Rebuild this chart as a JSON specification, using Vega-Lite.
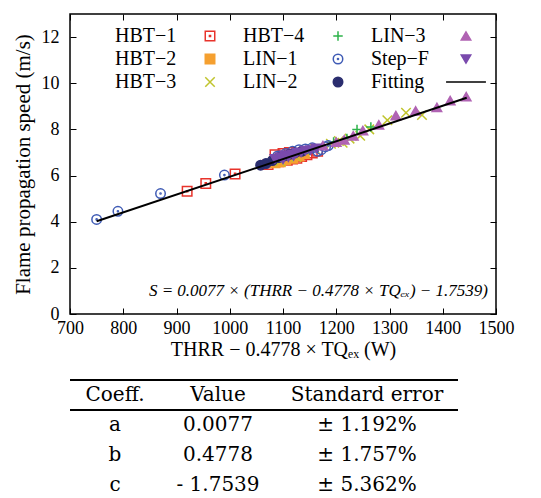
{
  "$schema": "https://vega.github.io/schema/vega-lite/v6.json",
  "padding": {"left": 11, "top": 12, "right": 5, "bottom": 0},
  "config": {
    "view": {"stroke": null},
    "axis": {"grid": false, "domain": false, "tickColor": "#000", "tickWidth": 1, "tickSize": -6, "labelColor": "#000", "titleColor": "#000", "labelFont": "Liberation Serif", "titleFont": "Liberation Serif", "labelFontSize": 18, "titleFontWeight": "normal", "labelFlush": false, "labelOverlap": false},
    "legend": {"orient": "none", "legendX": 130, "legendY": 12, "columns": 3, "direction": "horizontal", "title": null, "labelFont": "Liberation Serif", "labelFontSize": 20, "labelColor": "#000", "labelAlign": "left", "labelOffset": -105, "labelLimit": 300, "symbolSize": 90, "symbolStrokeWidth": 1.5, "rowPadding": 3, "columnPadding": 25, "gridAlign": "each", "padding": 0}
  },
  "datasets": {
    "points": [
      {"series": "HBT−1", "thrr": 920, "speed": 5.32},
      {"series": "HBT−1", "thrr": 955, "speed": 5.66},
      {"series": "HBT−1", "thrr": 1010, "speed": 6.07},
      {"series": "HBT−1", "thrr": 1072, "speed": 6.48},
      {"series": "HBT−1", "thrr": 1085, "speed": 6.9},
      {"series": "HBT−1", "thrr": 1092, "speed": 6.6},
      {"series": "HBT−1", "thrr": 1100, "speed": 6.95},
      {"series": "HBT−1", "thrr": 1108, "speed": 6.66},
      {"series": "HBT−1", "thrr": 1118, "speed": 6.72},
      {"series": "HBT−1", "thrr": 1126, "speed": 6.75},
      {"series": "HBT−1", "thrr": 1135, "speed": 6.82},
      {"series": "HBT−1", "thrr": 1145, "speed": 6.9},
      {"series": "HBT−1", "thrr": 1155, "speed": 6.98},
      {"series": "HBT−1", "thrr": 1165, "speed": 7.05},
      {"series": "HBT−1", "thrr": 1112, "speed": 7.0},
      {"series": "HBT−2", "thrr": 1085, "speed": 6.55},
      {"series": "HBT−2", "thrr": 1095, "speed": 6.6},
      {"series": "HBT−2", "thrr": 1105, "speed": 6.68},
      {"series": "HBT−2", "thrr": 1118, "speed": 6.75},
      {"series": "HBT−2", "thrr": 1130, "speed": 6.85},
      {"series": "HBT−2", "thrr": 1140, "speed": 6.95},
      {"series": "HBT−3", "thrr": 1095, "speed": 6.62},
      {"series": "HBT−3", "thrr": 1125, "speed": 6.8},
      {"series": "HBT−3", "thrr": 1160, "speed": 7.15},
      {"series": "HBT−3", "thrr": 1190, "speed": 7.38},
      {"series": "HBT−3", "thrr": 1205, "speed": 7.5},
      {"series": "HBT−3", "thrr": 1212, "speed": 7.42},
      {"series": "HBT−3", "thrr": 1225, "speed": 7.6},
      {"series": "HBT−3", "thrr": 1245, "speed": 7.72},
      {"series": "HBT−3", "thrr": 1262, "speed": 8.0},
      {"series": "HBT−3", "thrr": 1296, "speed": 8.4},
      {"series": "HBT−3", "thrr": 1331, "speed": 8.72},
      {"series": "HBT−3", "thrr": 1361, "speed": 8.62},
      {"series": "HBT−4", "thrr": 1110, "speed": 6.85},
      {"series": "HBT−4", "thrr": 1150, "speed": 7.1},
      {"series": "HBT−4", "thrr": 1195, "speed": 7.45},
      {"series": "HBT−4", "thrr": 1220, "speed": 7.6},
      {"series": "HBT−4", "thrr": 1239, "speed": 8.0},
      {"series": "HBT−4", "thrr": 1265, "speed": 8.1},
      {"series": "LIN−1", "thrr": 750, "speed": 4.1},
      {"series": "LIN−1", "thrr": 790, "speed": 4.45},
      {"series": "LIN−1", "thrr": 870, "speed": 5.22},
      {"series": "LIN−1", "thrr": 990, "speed": 6.02},
      {"series": "LIN−1", "thrr": 1090, "speed": 6.85},
      {"series": "LIN−1", "thrr": 1105, "speed": 6.95},
      {"series": "LIN−1", "thrr": 1118, "speed": 7.05},
      {"series": "LIN−1", "thrr": 1130, "speed": 7.12},
      {"series": "LIN−1", "thrr": 1142, "speed": 7.15},
      {"series": "LIN−1", "thrr": 1155, "speed": 7.2},
      {"series": "LIN−1", "thrr": 1165, "speed": 7.05},
      {"series": "LIN−1", "thrr": 1172, "speed": 7.12},
      {"series": "LIN−1", "thrr": 1180, "speed": 7.25},
      {"series": "LIN−1", "thrr": 1185, "speed": 7.3},
      {"series": "LIN−2", "thrr": 1058, "speed": 6.45},
      {"series": "LIN−2", "thrr": 1068, "speed": 6.52},
      {"series": "LIN−2", "thrr": 1080, "speed": 6.65},
      {"series": "LIN−2", "thrr": 1092, "speed": 6.78},
      {"series": "LIN−2", "thrr": 1102, "speed": 6.85},
      {"series": "LIN−2", "thrr": 1112, "speed": 6.92},
      {"series": "LIN−2", "thrr": 1122, "speed": 6.98},
      {"series": "LIN−2", "thrr": 1135, "speed": 7.05},
      {"series": "LIN−3", "thrr": 1175, "speed": 7.3},
      {"series": "LIN−3", "thrr": 1200, "speed": 7.45},
      {"series": "LIN−3", "thrr": 1215, "speed": 7.55},
      {"series": "LIN−3", "thrr": 1232, "speed": 7.72},
      {"series": "LIN−3", "thrr": 1250, "speed": 7.95},
      {"series": "LIN−3", "thrr": 1280, "speed": 8.2},
      {"series": "LIN−3", "thrr": 1312, "speed": 8.6},
      {"series": "LIN−3", "thrr": 1349, "speed": 8.8},
      {"series": "LIN−3", "thrr": 1389, "speed": 8.95},
      {"series": "LIN−3", "thrr": 1414, "speed": 9.25},
      {"series": "LIN−3", "thrr": 1444, "speed": 9.42},
      {"series": "Step−F", "thrr": 1085, "speed": 6.72},
      {"series": "Step−F", "thrr": 1095, "speed": 6.8},
      {"series": "Step−F", "thrr": 1100, "speed": 6.7},
      {"series": "Step−F", "thrr": 1103, "speed": 6.88},
      {"series": "Step−F", "thrr": 1110, "speed": 6.8},
      {"series": "Step−F", "thrr": 1118, "speed": 6.92},
      {"series": "Step−F", "thrr": 1120, "speed": 6.85},
      {"series": "Step−F", "thrr": 1126, "speed": 6.98},
      {"series": "Step−F", "thrr": 1134, "speed": 7.0},
      {"series": "Step−F", "thrr": 1142, "speed": 7.08},
      {"series": "Step−F", "thrr": 1152, "speed": 7.1},
      {"series": "Step−F", "thrr": 1162, "speed": 7.18}
    ],
    "fit": [
      {"thrr": 750, "speed": 4.02},
      {"thrr": 1445, "speed": 9.37}
    ],
    "eq": [
      {"label": "S = 0.0077 × (THRR − 0.4778 × TQₑₓ) − 1.7539)"}
    ],
    "rules": [
      {"r": -0.5},
      {"r": 0.5}
    ],
    "table": [
      {"row": 0, "col": "Coeff.", "text": "Coeff."},
      {"row": 0, "col": "Value", "text": "Value"},
      {"row": 0, "col": "Standard error", "text": "Standard error"},
      {"row": 1, "col": "Coeff.", "text": "a"},
      {"row": 1, "col": "Value", "text": "0.0077"},
      {"row": 1, "col": "Standard error", "text": "± 1.192%"},
      {"row": 2, "col": "Coeff.", "text": "b"},
      {"row": 2, "col": "Value", "text": "0.4778"},
      {"row": 2, "col": "Standard error", "text": "± 1.757%"},
      {"row": 3, "col": "Coeff.", "text": "c"},
      {"row": 3, "col": "Value", "text": "- 1.7539"},
      {"row": 3, "col": "Standard error", "text": "± 5.362%"}
    ]
  },
  "bounds": "flush",
  "spacing": 66,
  "vconcat": [
    {
      "width": 426,
      "height": 300,
      "view": {"stroke": "#000", "strokeWidth": 1.5},
      "layer": [
        {
          "data": {"name": "points"},
          "mark": {"type": "point", "size": 90, "strokeWidth": 1.5, "opacity": 1},
          "encoding": {
            "x": {"field": "thrr", "type": "quantitative", "scale": {"domain": [700, 1500], "nice": false, "zero": false},
                  "axis": {"orient": "bottom", "values": [700, 800, 900, 1000, 1100, 1200, 1300, 1400, 1500], "format": "d", "title": "THRR − 0.4778 × TQₑₓ (W)", "titleFontSize": 20, "labelPadding": 11, "titlePadding": 2}},
            "y": {"field": "speed", "type": "quantitative", "scale": {"domain": [0, 13], "nice": false, "zero": false},
                  "axis": {"orient": "left", "values": [0, 2, 4, 6, 8, 10, 12], "format": "d", "title": "Flame propagation speed (m/s)", "titleFontSize": 21, "labelPadding": 17, "titlePadding": 8}},
            "shape": {"field": "series", "type": "nominal",
                      "scale": {"domain": ["HBT−1", "HBT−4", "LIN−3", "HBT−2", "LIN−1", "Step−F", "HBT−3", "LIN−2", "Fitting"],
                                "range": ["M-1,-1H1V1H-1Z M-0.12,-0.12H0.12V0.12H-0.12Z", "M-1,0H1M0,-1V1", "triangle-up", "square", "M-1,0A1,1 0 1,0 1,0A1,1 0 1,0 -1,0Z M-0.12,0A0.12,0.12 0 1,0 0.12,0A0.12,0.12 0 1,0 -0.12,0Z", "triangle-down", "M-1,-1L1,1M-1,1L1,-1", "circle", "M-4.2,0H4.2"]}},
            "stroke": {"field": "series", "type": "nominal",
                       "scale": {"domain": ["HBT−1", "HBT−4", "LIN−3", "HBT−2", "LIN−1", "Step−F", "HBT−3", "LIN−2", "Fitting"],
                                 "range": ["#e8332b", "#2db34a", "#b063b3", "#f5a030", "#3f5bb5", "#7a4aad", "#c0c42e", "#2a2d6e", "#000000"]}},
            "fill": {"field": "series", "type": "nominal",
                     "scale": {"domain": ["HBT−1", "HBT−4", "LIN−3", "HBT−2", "LIN−1", "Step−F", "HBT−3", "LIN−2", "Fitting"],
                               "range": ["transparent", "transparent", "#b063b3", "#f5a030", "transparent", "#7a4aad", "transparent", "#2a2d6e", "transparent"]}}
          }
        },
        {
          "data": {"name": "fit"},
          "mark": {"type": "line", "color": "#000", "strokeWidth": 2},
          "encoding": {
            "x": {"field": "thrr", "type": "quantitative", "scale": {"domain": [700, 1500], "nice": false, "zero": false},
                  "axis": {"orient": "top", "values": [700, 800, 900, 1000, 1100, 1200, 1300, 1400, 1500], "labels": false, "title": null}},
            "y": {"field": "speed", "type": "quantitative", "scale": {"domain": [0, 13], "nice": false, "zero": false},
                  "axis": {"orient": "right", "values": [0, 2, 4, 6, 8, 10, 12], "labels": false, "title": null}}
          }
        },
        {
          "data": {"name": "eq"},
          "mark": {"type": "text", "align": "right", "baseline": "middle", "font": "Liberation Serif", "fontStyle": "italic", "fontSize": 17, "color": "#000"},
          "encoding": {
            "x": {"datum": 1485, "type": "quantitative", "axis": null},
            "y": {"datum": 1.0, "type": "quantitative", "axis": null},
            "text": {"field": "label"}
          }
        }
      ]
    },
    {
      "bounds": "flush",
      "spacing": 0,
      "hconcat": [
        {
          "width": 90, "height": 116,
          "layer": [
            {"data": {"name": "rules"}, "mark": {"type": "rule", "strokeWidth": 2, "color": "#000"},
             "encoding": {"y": {"field": "r", "type": "quantitative", "scale": {"domain": [-0.5, 3.37], "reverse": true, "nice": false, "zero": false}, "axis": null}}},
            {"data": {"name": "table"}, "transform": [{"filter": "datum.col === 'Coeff.'"}],
             "mark": {"type": "text", "font": "DejaVu Serif", "fontSize": 20, "baseline": "middle", "color": "#000"},
             "encoding": {"x": {"field": "col", "type": "nominal", "axis": null},
                          "y": {"field": "row", "type": "quantitative", "scale": {"domain": [-0.5, 3.37], "reverse": true, "nice": false, "zero": false}, "axis": null},
                          "text": {"field": "text"}}}
          ]
        },
        {
          "width": 116, "height": 116,
          "layer": [
            {"data": {"name": "rules"}, "mark": {"type": "rule", "strokeWidth": 2, "color": "#000"},
             "encoding": {"y": {"field": "r", "type": "quantitative", "scale": {"domain": [-0.5, 3.37], "reverse": true, "nice": false, "zero": false}, "axis": null}}},
            {"data": {"name": "table"}, "transform": [{"filter": "datum.col === 'Value'"}],
             "mark": {"type": "text", "font": "DejaVu Serif", "fontSize": 20, "baseline": "middle", "color": "#000"},
             "encoding": {"x": {"field": "col", "type": "nominal", "axis": null},
                          "y": {"field": "row", "type": "quantitative", "scale": {"domain": [-0.5, 3.37], "reverse": true, "nice": false, "zero": false}, "axis": null},
                          "text": {"field": "text"}}}
          ]
        },
        {
          "width": 182, "height": 116,
          "layer": [
            {"data": {"name": "rules"}, "mark": {"type": "rule", "strokeWidth": 2, "color": "#000"},
             "encoding": {"y": {"field": "r", "type": "quantitative", "scale": {"domain": [-0.5, 3.37], "reverse": true, "nice": false, "zero": false}, "axis": null}}},
            {"data": {"name": "table"}, "transform": [{"filter": "datum.col === 'Standard error'"}],
             "mark": {"type": "text", "font": "DejaVu Serif", "fontSize": 20, "baseline": "middle", "color": "#000"},
             "encoding": {"x": {"field": "col", "type": "nominal", "axis": null},
                          "y": {"field": "row", "type": "quantitative", "scale": {"domain": [-0.5, 3.37], "reverse": true, "nice": false, "zero": false}, "axis": null},
                          "text": {"field": "text"}}}
          ]
        }
      ]
    }
  ]
}
